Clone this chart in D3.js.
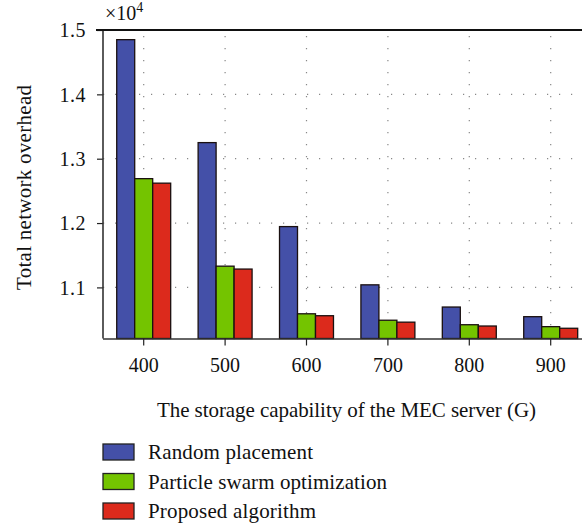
<!DOCTYPE html>
<html><head><meta charset="utf-8">
<script src="https://cdn.jsdelivr.net/npm/d3@7"></script>
<style>body{margin:0;background:#fff}svg{display:block}text{font-family:"Liberation Serif","DejaVu Serif",serif;fill:#111}</style>
</head><body><svg id="c" width="582" height="531"></svg>
<script>
const categories = ["400","500","600","700","800","900"];
const seriesNames = ["Random placement","Particle swarm optimization","Proposed algorithm"];
const randomPlacement = [14850,13250,11945,11040,10695,10545];
const pso = [12690,11330,10590,10490,10420,10390];
const proposed = [12620,11285,10560,10460,10400,10365];
const yTicks = [1.1,1.2,1.3,1.4,1.5];
const colors = ["#4450A8","#74C400","#DC2A1C"];
const series = [randomPlacement, pso, proposed];
const legendWidths = [165,239,168];

const svg = d3.select("#c");
const L = 103, T = 30, B = 338.5, step = 81.4;
const R = L + step*categories.length;
const x = d3.scaleBand().domain(categories).range([L,R]).paddingInner(0.337).paddingOuter(0.1685);
const xs = d3.scaleBand().domain(d3.range(3)).range([0,x.bandwidth()]);
const y = d3.scaleLinear().domain([1.0206,1.5]).range([B,T]);

// grid
const g = svg.append("g");
g.selectAll(".hg").data(yTicks.filter(d=>d<1.5)).join("line")
 .attr("x1",L).attr("x2",582).attr("y1",d=>y(d)).attr("y2",d=>y(d))
 .attr("stroke","#888").attr("stroke-width",1.2).attr("stroke-dasharray","1.2,10.8");
g.selectAll(".vg").data(categories).join("line")
 .attr("x1",d=>x(d)+x.bandwidth()/2).attr("x2",d=>x(d)+x.bandwidth()/2)
 .attr("y1",T+6).attr("y2",B).attr("stroke","#888").attr("stroke-width",1.2).attr("stroke-dasharray","1.2,10.8");

// bars
series.forEach((s,i)=>{
  svg.append("g").selectAll("rect").data(s).join("rect")
   .attr("x",(d,j)=>x(categories[j])+xs(i))
   .attr("width",xs.bandwidth())
   .attr("y",d=>y(d/1e4))
   .attr("height",d=>B-y(d/1e4))
   .attr("fill",colors[i]).attr("stroke","#1a1010").attr("stroke-width",1.3);
});

// axes
const ya = svg.append("g").attr("transform",`translate(${L},0)`)
 .call(d3.axisLeft(y).tickValues(yTicks).tickFormat(d3.format(".1f")).tickSize(6).tickSizeOuter(0));
ya.select(".domain").remove();
ya.selectAll("line").attr("stroke","#222").attr("stroke-width",1.2);
ya.selectAll("text").attr("font-size",20).attr("letter-spacing",0.5).attr("x",-17).attr("dy","0.34em").attr("font-family","Liberation Serif").attr("fill","#111");
svg.append("line").attr("x1",L).attr("x2",L).attr("y1",T).attr("y2",B).attr("stroke","#333").attr("stroke-width",1.6);
svg.append("line").attr("x1",L-7).attr("x2",582).attr("y1",T).attr("y2",T).attr("stroke","#111").attr("stroke-width",2);

const xa = svg.append("g").attr("transform",`translate(0,${B})`)
 .call(d3.axisBottom(x).tickSize(7).tickSizeOuter(0));
xa.select(".domain").attr("stroke","#333").attr("stroke-width",1.6).attr("d",`M${L},0.5H582`);
xa.selectAll("line").attr("stroke","#222").attr("stroke-width",1.2);
xa.selectAll("text").attr("font-size",20).attr("y",19).attr("dy","0.71em").attr("font-family","Liberation Serif").attr("fill","#111");

// labels
svg.append("text").attr("x",105).attr("y",20).attr("font-size",20).text("×10").append("tspan").attr("dy",-8).attr("font-size",14).text("4");
svg.append("text").attr("x",157).attr("y",417).attr("font-size",21)
 .attr("textLength",379).attr("lengthAdjust","spacing")
 .text("The storage capability of the MEC server (G)");
svg.append("text").attr("transform","translate(31,290) rotate(-90)").attr("font-size",21)
 .attr("textLength",205).attr("lengthAdjust","spacing")
 .text("Total network overhead");

// legend
const lg = svg.append("g");
seriesNames.forEach((n,i)=>{
  const yy = 444 + i*29.5;
  lg.append("rect").attr("x",103).attr("y",yy).attr("width",31).attr("height",16)
    .attr("fill",colors[i]).attr("stroke","#222").attr("stroke-width",1.3);
  lg.append("text").attr("x",148).attr("y",yy+15).attr("font-size",21)
    .attr("textLength",legendWidths[i]).attr("lengthAdjust","spacing").text(n);
});
</script></body></html>
